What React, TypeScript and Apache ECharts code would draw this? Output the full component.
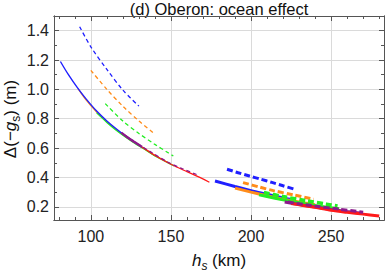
import React, { useEffect, useRef } from "react";
import * as echarts from "echarts";

const X_MAJOR = [100, 150, 200, 250];
const X_MINOR = [80, 90, 110, 120, 130, 140, 160, 170, 180, 190, 210, 220, 230, 240, 260, 270, 280];
const Y_MAJOR = [0.2, 0.4, 0.6, 0.8, 1.0, 1.2, 1.4];
const Y_MINOR = [0.3, 0.5, 0.7, 0.9, 1.1, 1.3];

// thin solid curves (left group)
const blueSolidA = [[81, 1.19], [86, 1.1], [91.7, 1.01], [97, 0.935], [103.6, 0.852], [110, 0.785], [116, 0.73], [122, 0.68], [129, 0.628]];
const orangeSolidA = [[92, 1.005], [97, 0.928], [103.6, 0.846], [110, 0.78], [116, 0.725], [122, 0.676], [128, 0.632], [133, 0.598], [140, 0.548]];
const greenSolidA = [[103.6, 0.84], [110, 0.775], [116, 0.72], [122, 0.672], [128, 0.628], [133, 0.595], [140, 0.547], [146, 0.513], [152, 0.478]];
const purpleSolidA = [[119, 0.705], [123, 0.672], [127, 0.643], [132, 0.608]];
const redSolidA = [[120, 0.697], [128, 0.635], [133, 0.6], [140, 0.55], [150, 0.49], [160, 0.439], [168, 0.4], [174, 0.367]];

// thin dashed curves (left group)
const blueDashA = [[93, 1.427], [100, 1.29], [110, 1.136], [120, 0.995], [130, 0.886]];
const orangeDashA = [[100, 1.13], [110, 1.0], [120, 0.885], [130, 0.785], [140, 0.694]];
const greenDashA = [[109, 0.903], [120, 0.784], [130, 0.7], [140, 0.625], [148, 0.57], [151.5, 0.546]];
const purpleDashA = [[129, 0.63], [138, 0.57], [148, 0.505], [157, 0.46], [166, 0.42]];

// thick solid curves (right group)
const blueSolidB = [[177.5, 0.376], [190, 0.338], [200, 0.31], [210, 0.285], [220, 0.26], [228, 0.245]];
const orangeSolidB = [[190, 0.327], [200, 0.3], [210, 0.275], [220, 0.252], [230, 0.232], [240, 0.214]];
const greenSolidB = [[205, 0.281], [215, 0.258], [225, 0.237], [235, 0.218], [245, 0.2], [255, 0.186]];
const purpleSolidB = [[221, 0.232], [230, 0.215], [240, 0.198], [250, 0.182], [260, 0.168], [268, 0.158]];
const redSolidB = [[225, 0.222], [231, 0.212], [240, 0.196], [250, 0.176], [260, 0.162], [270, 0.15], [280, 0.138]];

// thick dashed curves (right group)
const blueDashB = [[185, 0.456], [192, 0.432], [199, 0.41], [206, 0.388], [213, 0.366], [220, 0.343], [226.5, 0.322]];
const orangeDashB = [[195, 0.365], [205, 0.335], [214, 0.31], [227, 0.28], [239, 0.252]];
const greenDashB = [[208, 0.297], [220, 0.27], [235, 0.24], [247, 0.218], [254, 0.205]];
const purpleDashB = [[223, 0.232], [240, 0.205], [255, 0.184], [270, 0.163]];

const BLUE = "#1f1fff";
const ORANGE = "#ff8c1a";
const GREEN = "#22ee22";
const PURPLE = "#8b1a8b";
const RED = "#ff1a1a";

const FONT = "'Liberation Sans', Arial, sans-serif";

function line(data: number[][], color: string, width: number, dash?: number[]) {
  return {
    type: "line",
    data,
    showSymbol: false,
    smooth: 0.3,
    silent: true,
    lineStyle: { color, width, type: dash ? dash : "solid", cap: "butt" },
    xAxisIndex: 0,
    yAxisIndex: 0,
  };
}

export default function App() {
  const ref = useRef<HTMLDivElement>(null);
  useEffect(() => {
    if (!ref.current) return;
    const chart = echarts.init(ref.current, undefined, { renderer: "svg" });
    const axisLine = { show: true, lineStyle: { color: "#555", width: 1 } };
    const xBase = { type: "value", min: 77, max: 283, gridIndex: 0 };
    const yBase = { type: "value", min: 0.11, max: 1.5, gridIndex: 0 };
    const option: any = {
      animation: false,
      grid: { left: 54, right: 1, top: 16, bottom: 53, containLabel: false, outerBoundsMode: "none" },
      xAxis: [
        {
          ...xBase,
          position: "bottom",
          axisLine,
          axisTick: { show: true, inside: true, length: 5, customValues: X_MAJOR, lineStyle: { color: "#555" } },
          axisLabel: { show: true, customValues: X_MAJOR, fontSize: 16, color: "#222", fontFamily: FONT, margin: 8 },
          splitLine: { show: true, lineStyle: { color: "#dadada", width: 1 } },
        },
        {
          ...xBase,
          position: "bottom",
          axisLine,
          axisTick: { show: true, inside: true, length: 3, customValues: X_MINOR, lineStyle: { color: "#555" } },
          axisLabel: { show: false },
          splitLine: { show: false },
        },
        {
          ...xBase,
          position: "top",
          axisLine,
          axisTick: { show: true, inside: true, length: 5, customValues: X_MAJOR, lineStyle: { color: "#555" } },
          axisLabel: { show: false },
          splitLine: { show: false },
        },
        {
          ...xBase,
          position: "top",
          axisLine,
          axisTick: { show: true, inside: true, length: 3, customValues: X_MINOR, lineStyle: { color: "#555" } },
          axisLabel: { show: false },
          splitLine: { show: false },
        },
      ],
      yAxis: [
        {
          ...yBase,
          position: "left",
          axisLine,
          axisTick: { show: true, inside: true, length: 5, customValues: Y_MAJOR, lineStyle: { color: "#555" } },
          axisLabel: {
            show: true,
            customValues: Y_MAJOR,
            fontSize: 16,
            color: "#222",
            fontFamily: FONT,
            margin: 5,
            formatter: (v: number) => v.toFixed(1),
          },
          splitLine: { show: true, lineStyle: { color: "#dadada", width: 1 } },
        },
        {
          ...yBase,
          position: "left",
          axisLine,
          axisTick: { show: true, inside: true, length: 3, customValues: Y_MINOR, lineStyle: { color: "#555" } },
          axisLabel: { show: false },
          splitLine: { show: false },
        },
        {
          ...yBase,
          position: "right",
          axisLine,
          axisTick: { show: true, inside: true, length: 5, customValues: Y_MAJOR, lineStyle: { color: "#555" } },
          axisLabel: { show: false },
          splitLine: { show: false },
        },
        {
          ...yBase,
          position: "right",
          axisLine,
          axisTick: { show: true, inside: true, length: 3, customValues: Y_MINOR, lineStyle: { color: "#555" } },
          axisLabel: { show: false },
          splitLine: { show: false },
        },
      ],
      series: [
        line(orangeSolidA, ORANGE, 1.3),
        line(greenSolidA, GREEN, 1.3),
        line(redSolidA, RED, 1.3),
        line(blueSolidA, BLUE, 1.4),
        line(purpleSolidA, PURPLE, 2.4),
        line(blueDashA, BLUE, 1.3, [4, 3]),
        line(orangeDashA, ORANGE, 1.3, [4, 3]),
        line(greenDashA, GREEN, 1.3, [4, 3]),
        line(purpleDashA, PURPLE, 1.3, [4, 3]),
        line(blueSolidB, BLUE, 3),
        line(orangeSolidB, ORANGE, 3),
        line(greenSolidB, GREEN, 3),
        line(purpleSolidB, PURPLE, 3),
        line(redSolidB, RED, 3),
        line(blueDashB, BLUE, 3, [6, 3]),
        line(orangeDashB, ORANGE, 3, [6, 3]),
        line(greenDashB, GREEN, 3.5, [6, 3]),
        line(purpleDashB, PURPLE, 3, [6, 3]),
      ],
      graphic: [
        {
          type: "text",
          x: 219,
          y: 0,
          style: {
            text: "(d) Oberon: ocean effect",
            fontSize: 16.5,
            fontFamily: FONT,
            fill: "#111",
            textAlign: "center",
            textVerticalAlign: "top",
          },
        },
        {
          type: "text",
          x: 219,
          y: 249,
          style: {
            text: "{i|h}{s|s}{n| (km)}",
            textAlign: "center",
            textVerticalAlign: "top",
            fill: "#111",
            rich: {
              i: { fontSize: 17, fontStyle: "italic", fontFamily: FONT, fill: "#111", lineHeight: 20, verticalAlign: "bottom" },
              s: { fontSize: 12, fontStyle: "italic", fontFamily: FONT, fill: "#111", lineHeight: 14, verticalAlign: "bottom", padding: [0, 0, -3, 0] },
              n: { fontSize: 17, fontFamily: FONT, fill: "#111", lineHeight: 20, verticalAlign: "bottom" },
            },
          },
        },
        {
          type: "text",
          x: 9,
          y: 119,
          rotation: Math.PI / 2,
          style: {
            text: "{n|Δ(−}{i|g}{s|s}{n|) (m)}",
            textAlign: "center",
            textVerticalAlign: "middle",
            fill: "#111",
            rich: {
              i: { fontSize: 17, fontStyle: "italic", fontFamily: FONT, fill: "#111", lineHeight: 20, verticalAlign: "bottom" },
              s: { fontSize: 12, fontFamily: FONT, fill: "#111", lineHeight: 14, verticalAlign: "bottom", padding: [0, 0, -3, 0] },
              n: { fontSize: 17, fontFamily: FONT, fill: "#111", lineHeight: 20, verticalAlign: "bottom" },
            },
          },
        },
      ],
    };
    chart.setOption(option);
    return () => chart.dispose();
  }, []);
  return <div ref={ref} style={{ width: 385, height: 273, position: "absolute", left: 0, top: 0 }} />;
}
